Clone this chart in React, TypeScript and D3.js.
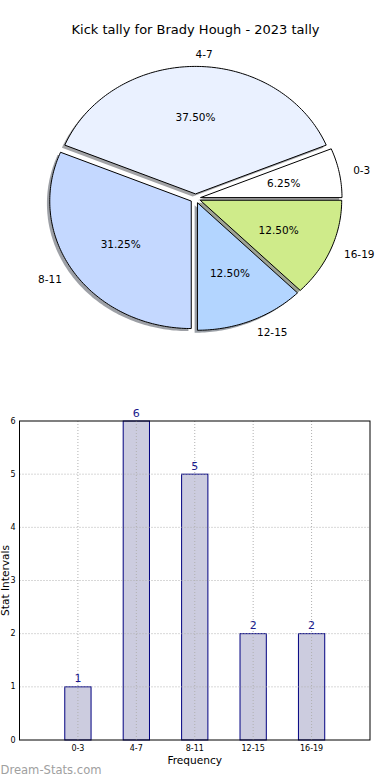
import React from "react";
import * as d3 from "d3";

const categories = ["0-3", "4-7", "8-11", "12-15", "16-19"];
const tallies = [1, 6, 5, 2, 2];
const sliceColors = ["#ffffff", "#eaf1ff", "#c4d8ff", "#b3d5ff", "#cfeb8a"];
const yTickValues = [0, 1, 2, 3, 4, 5, 6];
const titleText = "Kick tally for Brady Hough - 2023 tally";
const xLabelText = "Frequency";
const yLabelText = "Stat Intervals";
const watermark = "Dream-Stats.com";

const FONT = "'DejaVu Sans', sans-serif";

// pie geometry
const cx = 195.5;
const cy = 198.5;
const rx = 141.5;
const ry = 127.5;
const explode = 0.036;
const shadowDx = -0.02 * rx;
const shadowDy = 0.02 * ry;

// bar geometry
const plotLeft = 19.5;
const plotRight = 370;
const plotTop = 421;
const plotBottom = 740;
const barWidthUnits = 0.45;

function wedgePath(ox: number, oy: number, a0: number, a1: number) {
  const n = Math.max(8, Math.ceil(((a1 - a0) * 180) / Math.PI));
  const pts: [number, number][] = [[ox, oy]];
  for (let i = 0; i <= n; i++) {
    const a = a0 + ((a1 - a0) * i) / n;
    pts.push([ox + rx * Math.cos(a), oy - ry * Math.sin(a)]);
  }
  return d3.line()(pts) + "Z";
}

export default function App() {
  const total = d3.sum(tallies);
  const arcs = d3
    .pie<number>()
    .sort(null)
    .startAngle(0)
    .endAngle(2 * Math.PI)
    .value((d) => d)(tallies);

  const wedges = arcs.map((a, i) => {
    const mid = (a.startAngle + a.endAngle) / 2;
    const ox = cx + explode * rx * Math.cos(mid);
    const oy = cy - explode * ry * Math.sin(mid);
    return {
      i,
      mid,
      ox,
      oy,
      path: wedgePath(ox, oy, a.startAngle, a.endAngle),
      color: sliceColors[i],
      shadow: (() => {
        const c = d3.rgb(sliceColors[i]);
        return d3.rgb(c.r * 0.3, c.g * 0.3, c.b * 0.3).formatHex();
      })(),
      lx: ox + 1.1 * rx * Math.cos(mid),
      ly: oy - 1.1 * ry * Math.sin(mid),
      px: ox + 0.6 * rx * Math.cos(mid),
      py: oy - 0.6 * ry * Math.sin(mid),
      pct: d3.format(".2f")((tallies[i] / total) * 100) + "%",
    };
  });

  const x = d3.scaleLinear().domain([-1, 5]).range([plotLeft, plotRight]);
  const y = d3.scaleLinear().domain([0, 6]).range([plotBottom, plotTop]);
  const bw = x(barWidthUnits) - x(0);

  return (
    <svg
      width={390}
      height={780}
      style={{ position: "absolute", left: 0, top: 0, background: "#fff" }}
      fontFamily={FONT}
    >
      <rect x={0} y={0} width={390} height={780} fill="#fff" />
      {/* Pie */}
      <text x={cx} y={34} textAnchor="middle" fontSize={13} fill="#000">
        {titleText}
      </text>
      <g>
        {wedges.map((w) => (
          <path
            key={"s" + w.i}
            d={w.path}
            transform={`translate(${shadowDx},${shadowDy})`}
            fill={w.shadow}
            fillOpacity={0.5}
            stroke="none"
          />
        ))}
        {wedges.map((w) => (
          <path
            key={"w" + w.i}
            d={w.path}
            fill={w.color}
            stroke="#000"
            strokeWidth={1}
            strokeLinejoin="miter"
          />
        ))}
        {wedges.map((w) => (
          <text
            key={"l" + w.i}
            x={w.lx}
            y={w.ly}
            textAnchor={Math.cos(w.mid) > -1e-9 ? "start" : "end"}
            dominantBaseline="central"
            fontSize={10.5}
            fill="#000"
          >
            {categories[w.i]}
          </text>
        ))}
        {wedges.map((w) => (
          <text
            key={"p" + w.i}
            x={w.px}
            y={w.py}
            textAnchor="middle"
            dominantBaseline="central"
            fontSize={10.5}
            fill="#000"
          >
            {w.pct}
          </text>
        ))}
      </g>

      {/* Bar chart */}
      <g>
        {tallies.map((v, i) => (
          <rect
            key={"b" + i}
            x={x(i) - bw / 2}
            y={y(v)}
            width={bw}
            height={y(0) - y(v)}
            fill="#ccccdf"
            stroke="#000080"
            strokeWidth={1}
          />
        ))}
        {yTickValues
          .filter((t) => t > 0 && t < 6)
          .map((t) => (
            <line
              key={"gy" + t}
              x1={plotLeft}
              x2={plotRight}
              y1={y(t)}
              y2={y(t)}
              stroke="#b0b0b0"
              strokeWidth={1}
              strokeDasharray="1,2"
            />
          ))}
        {categories.map((c, i) => (
          <line
            key={"gx" + i}
            x1={x(i)}
            x2={x(i)}
            y1={plotTop}
            y2={plotBottom}
            stroke="#b0b0b0"
            strokeWidth={1}
            strokeDasharray="1,2"
          />
        ))}
        <rect
          x={plotLeft}
          y={plotTop}
          width={plotRight - plotLeft}
          height={plotBottom - plotTop}
          fill="none"
          stroke="#000"
          strokeWidth={1}
        />
        {tallies.map((v, i) => (
          <text
            key={"v" + i}
            x={x(i)}
            y={y(v) - 4.5}
            textAnchor="middle"
            fontSize={11}
            fill="#1a1a8c"
          >
            {v}
          </text>
        ))}
        {yTickValues.map((t) => (
          <text
            key={"yt" + t}
            x={15.5}
            y={y(t)}
            textAnchor="end"
            dominantBaseline="central"
            fontSize={8}
            fill="#000"
          >
            {t}
          </text>
        ))}
        {categories.map((c, i) => (
          <text
            key={"xt" + i}
            x={x(i)}
            y={750.5}
            textAnchor="middle"
            fontSize={8}
            fill="#000"
          >
            {c}
          </text>
        ))}
        <text
          x={(plotLeft + plotRight) / 2}
          y={764}
          textAnchor="middle"
          fontSize={10.6}
          fill="#000"
        >
          {xLabelText}
        </text>
        <text
          transform={`translate(9,${(plotTop + plotBottom) / 2}) rotate(-90)`}
          textAnchor="middle"
          fontSize={10.6}
          fill="#000"
        >
          {yLabelText}
        </text>
        <text
          x={0.5}
          y={774}
          fontSize={11.7}
          fill="#a0a0a0"
          textLength={101}
          lengthAdjust="spacingAndGlyphs"
        >
          {watermark}
        </text>
      </g>
    </svg>
  );
}
